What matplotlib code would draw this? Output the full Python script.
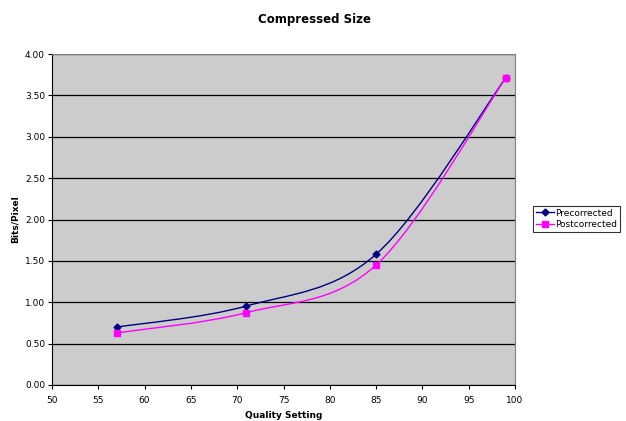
import matplotlib
matplotlib.use("Agg")
import matplotlib.pyplot as plt
import numpy as np
from matplotlib.path import Path
from matplotlib.patches import PathPatch
from matplotlib.lines import Line2D

quality = [57, 71, 85, 99]
precorrected = [0.70, 0.955, 1.58, 3.71]
postcorrected = [0.63, 0.875, 1.45, 3.71]


def smooth_path(xs, ys):
    # Excel-style smoothed line: cubic bezier, control points from neighbours
    pts = np.column_stack([xs, ys]).astype(float)
    n = len(pts)
    verts = [pts[0]]
    codes = [Path.MOVETO]
    for i in range(n - 1):
        p0 = pts[i - 1] if i > 0 else pts[i]
        p1 = pts[i]
        p2 = pts[i + 1]
        p3 = pts[i + 2] if i + 2 < n else pts[i + 1]
        c1 = p1 + (p2 - p0) / 6.0
        c2 = p2 - (p3 - p1) / 6.0
        verts += [c1, c2, p2]
        codes += [Path.CURVE4] * 3
    return Path(verts, codes)


plt.rcParams['font.family'] = ['DejaVu Sans']
fig = plt.figure(figsize=(6.26, 4.21), dpi=100)
ax = fig.add_axes([52 / 626, 1 - 385 / 421, 463 / 626, 331 / 421])
ax.set_facecolor('#CCCCCC')

ax.set_xlim(50, 100)
ax.set_ylim(0, 4)
ax.set_xticks(np.arange(50, 101, 5))
ax.set_yticks(np.arange(0, 4.01, 0.5))
ax.set_yticklabels(['%.2f' % v for v in np.arange(0, 4.01, 0.5)])
ax.tick_params(labelsize=6.5, length=3, width=0.8, colors='black')
ax.tick_params(axis='x', pad=5)
ax.tick_params(axis='y', pad=2)
ax.grid(axis='y', color='black', linewidth=0.9)
ax.set_axisbelow(True)
for s in ['top', 'right']:
    ax.spines[s].set_color('#808080')
    ax.spines[s].set_linewidth(0.8)
for s in ['left', 'bottom']:
    ax.spines[s].set_color('black')
    ax.spines[s].set_linewidth(0.8)

series = [
    (precorrected, '#000080', 'D', 3.5, 'Precorrected'),
    (postcorrected, '#FF00FF', 's', 5, 'Postcorrected'),
]
handles = []
for vals, col, mk, ms, name in series:
    ax.add_patch(PathPatch(smooth_path(quality, vals), facecolor='none',
                           edgecolor=col, linewidth=1.0, zorder=3))
    ax.plot(quality, vals, linestyle='none', marker=mk, markersize=ms,
            color=col, zorder=4)
    handles.append(Line2D([], [], color=col, marker=mk, markersize=ms,
                          linewidth=1.0, label=name))

ax.set_xlabel('Quality Setting', fontsize=6.5, fontweight='bold', labelpad=4)
ax.set_ylabel('Bits/Pixel', fontsize=6.5, fontweight='bold', labelpad=4)
fig.text(315 / 626, 1 - 20 / 421, 'Compressed Size', fontsize=8.5,
         fontweight='bold', ha='center', va='center')

leg = fig.legend(handles=handles, loc='center left',
                 bbox_to_anchor=(533 / 626, 1 - 219 / 421), fontsize=6.5,
                 frameon=True, fancybox=False, edgecolor='black',
                 handlelength=2.0, handletextpad=0.2, borderpad=0.3,
                 labelspacing=0.3, borderaxespad=0)
leg.get_frame().set_linewidth(0.8)

fig.savefig('out.png', dpi=100)
